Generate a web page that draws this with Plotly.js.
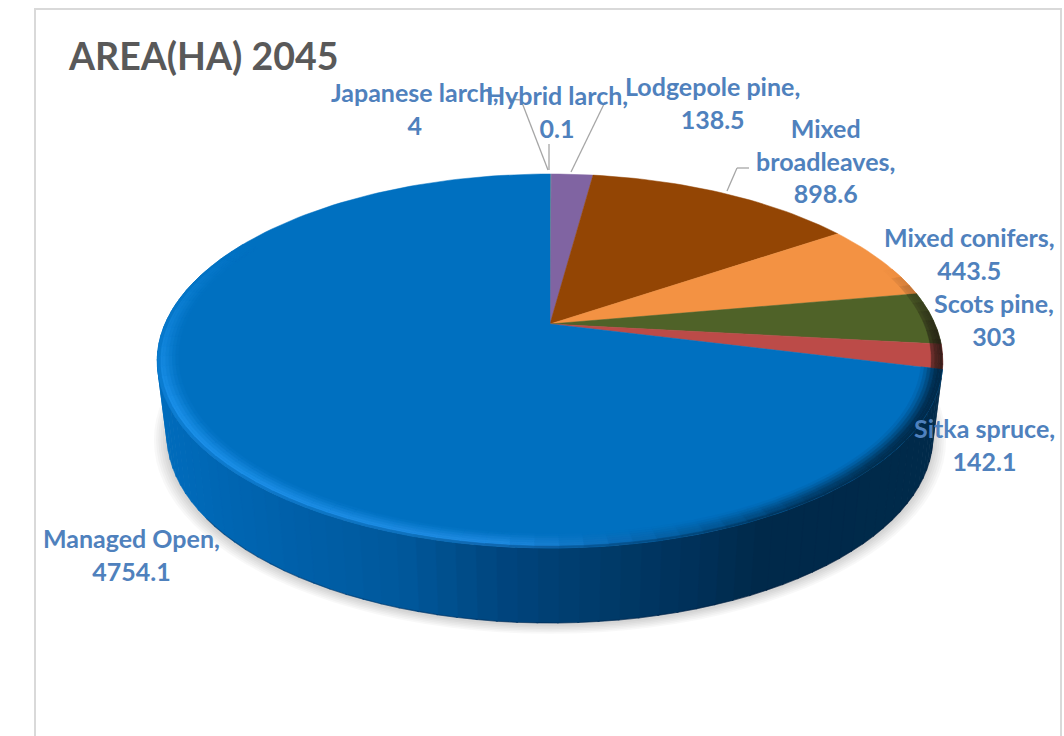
<!DOCTYPE html>
<html>
<head>
<meta charset="utf-8">
<script src="https://cdn.plot.ly/plotly-3.0.1.min.js"></script>
<style>html,body{margin:0;padding:0;background:#fff;overflow:hidden}#chart{width:1064px;height:736px}</style>
</head>
<body>
<div id="chart"></div>
<script>
// ---- data ----
const categories = ["Japanese larch","Hybrid larch","Lodgepole pine","Mixed broadleaves","Mixed conifers","Scots pine","Sitka spruce","Managed Open"];
const areaHa = [4, 0.1, 138.5, 898.6, 443.5, 303, 142.1, 4754.1];
const sliceColors = ["#4f81bd","#9bbb59","#8064a2","#934504","#f39243","#4f6228","#bc4b48","#0070c0"];
const labelLines = ["Japanese larch,<br>4","Hybrid larch,<br>0.1","Lodgepole pine,<br>138.5","Mixed<br>broadleaves,<br>898.6","Mixed conifers,<br>443.5","Scots pine,<br>303","Sitka spruce,<br>142.1","Managed Open,<br>4754.1"];
const chartTitle = "AREA(HA) 2045";

// ---- layout constants ----
const W = 1064, H = 736;
const apex = {x: 550, y: 324};
const persp = 0.1979, halfDepth = 179.7, halfWidth = 385;
const wallH = 75, baseScale = 0.975;
const labelPos = [[415,108],[557,111],[712,102],[825,160],[969,253],[994,319],[984,444],[131,554]];
const leaders = [
  [[548,170],[521,100],[510,99]],
  [[549,170],[549,144]],
  [[571,172],[605,102]],
  [[727,191],[737,168],[749,168]]
];
const labelFont = {family:"Lato, 'Open Sans', sans-serif", size:25, color:"#4f81bd", weight:700};

// ---- helpers ----
const rad = d => d*Math.PI/180;
function P(deg, r){ // perspective projection of a point on the unit disc, clockwise from the top
  const u = r*Math.sin(rad(deg)), v = r*Math.cos(rad(deg)), d = 1 + persp*v;
  return [apex.x + halfWidth*u/d, apex.y - halfDepth*v/d];
}
function B(deg, r){ // matching point on the lower rim
  const p = P(deg, r);
  return [apex.x + (p[0]-apex.x)*baseScale, p[1] + wallH];
}
const hex = c => [1,3,5].map(i => parseInt(c.substr(i,2),16));
function mix(a,b,t){ const A=hex(a),B2=hex(b); return "#"+A.map((v,i)=>Math.round(v+(B2[i]-v)*t).toString(16).padStart(2,"0")).join(""); }
function ramp(stops, x){
  if (x <= stops[0][0]) return stops[0][1];
  for (let i=1;i<stops.length;i++) if (x <= stops[i][0]) return mix(stops[i-1][1],stops[i][1],(x-stops[i-1][0])/(stops[i][0]-stops[i-1][0]));
  return stops[stops.length-1][1];
}
const wallStops = [[157,"#006cbc"],[300,"#005fa8"],[400,"#00589b"],[500,"#00457e"],[600,"#003b6a"],[700,"#003058"],[760,"#00294a"],[950,"#002a4a"]];
const edgeStops = [[157,"#1a8fe8"],[500,"#1f8ae0"],[600,"#0d70bd"],[700,"#035a9b"],[800,"#01406f"],[900,"#002f52"],[950,"#002a4a"]];

function poly(pts, color, name){
  return {type:"scatter", mode:"lines", x:pts.map(p=>p[0]), y:pts.map(p=>p[1]), fill:"toself",
          fillcolor:color, line:{color:color,width:0.5}, hoverinfo:"skip", showlegend:false, name:name||""};
}

// ---- slice angles from the values ----
const total = areaHa.reduce((a,b)=>a+b,0);
let run = 0;
const spans = areaHa.map(v => { const s = run/total*360; run += v; return [s, run/total*360]; });
const managed = spans[spans.length-1];
const traces = [];

// soft shadow under the disc
for (let k=6;k>=1;k--){
  const pts=[]; const grow = 1 + k*0.0055;
  for (let a=0;a<=360;a+=3){ const p=B(a,grow); pts.push([p[0],p[1]+1.5]); }
  traces.push({type:"scatter",mode:"lines",x:pts.map(p=>p[0]),y:pts.map(p=>p[1]),fill:"toself",
    fillcolor:"rgba(0,0,0,0.028)",line:{width:0},hoverinfo:"skip",showlegend:false});
}

// side wall of the biggest slice
const step = 2.5;
for (let a=managed[0]; a<Math.min(managed[1],285); a+=step){
  const b=a+step+0.2, t1=P(a,1), t2=P(b,1), b1=B(a,1), b2=B(b,1);
  traces.push(poly([t1,t2,b2,b1,t1], ramp(wallStops,(t1[0]+t2[0])/2)));
}
// thin dark lower edge of the wall
{
  const pts=[]; for (let a=managed[0]; a<=235; a+=step) pts.push(B(a,1));
  traces.push({type:"scatter",mode:"lines",x:pts.map(p=>p[0]),y:pts.map(p=>p[1]),
    line:{color:"rgba(0,20,50,0.3)",width:1.2},hoverinfo:"skip",showlegend:false});
}

// top-face slices
categories.forEach((name,i)=>{
  const pts=[[apex.x,apex.y]];
  const n=Math.max(1,Math.ceil((spans[i][1]-spans[i][0])/1.5));
  for(let k=0;k<=n;k++) pts.push(P(spans[i][0]+(spans[i][1]-spans[i][0])*k/n,1));
  pts.push([apex.x,apex.y]);
  traces.push(poly(pts,sliceColors[i],name));
});

// bevel around the rim
const ringEdges=[0.948,0.956,0.964,0.972,0.98,0.987,0.993,1.0];
const ringMix=[0.1,0.28,0.5,0.72,0.92,1.0,0.7];
const rimStep=3;
categories.forEach((name,i)=>{
  const isMain=i===categories.length-1;
  for(let a=spans[i][0]; a<spans[i][1]; a+=rimStep){
    const b=Math.min(a+rimStep+0.1,spans[i][1]);
    const m=(a+b)/2;
    let s;
    if(isMain){ s = m<245?1: m<300?(300-m)/55:0; }
    else { s = m<72?0: m<95?(m-72)/23:1; }
    if(s<=0) continue;
    const x=P(m,1)[0];
    const edge = isMain ? ramp(edgeStops,x) : mix(sliceColors[i],"#1c1410",0.75);
    const wall = isMain ? mix(ramp(wallStops,x),edge,0.5) : mix(sliceColors[i],"#1c1410",0.8);
    ringMix.forEach((t,k)=>{
      if(!isMain && k<3) return;
      const target = k===ringMix.length-1 ? wall : edge;
      const tt = k===ringMix.length-1 ? 1 : t;
      const col = mix(sliceColors[i],target,tt*s);
      const r0=ringEdges[k], r1=ringEdges[k+1];
      traces.push(poly([P(a,r0),P(b,r0),P(b,r1),P(a,r1),P(a,r0)],col));
    });
  }
});

const annotations = labelLines.map((t,i)=>({
  text:t, x:labelPos[i][0], y:labelPos[i][1], xref:"x", yref:"y", showarrow:false,
  xanchor:"center", yanchor:"middle", align:"center", font:labelFont
}));
const shapes = [{type:"rect",xref:"x",yref:"y",x0:35,x1:1061,y0:9,y1:760,line:{color:"#d9d9d9",width:2},fillcolor:"rgba(0,0,0,0)",layer:"below"}];
leaders.forEach(L=>{
  for(let i=0;i<L.length-1;i++) shapes.push({type:"line",xref:"x",yref:"y",x0:L[i][0],y0:L[i][1],x1:L[i+1][0],y1:L[i+1][1],line:{color:"#a6a6a6",width:1.3},layer:"above"});
});

Plotly.newPlot("chart",traces,{
  width:W,height:H,margin:{l:0,r:0,t:0,b:0},paper_bgcolor:"#fff",plot_bgcolor:"#fff",showlegend:false,hovermode:false,
  title:{text:chartTitle,x:69/W,xanchor:"left",xref:"paper",y:1-57/H,yref:"paper",yanchor:"middle",
    font:{family:"Lato, 'Open Sans', sans-serif",size:37.5,color:"#595959",weight:700}},
  xaxis:{range:[0,W],visible:false,fixedrange:true},
  yaxis:{range:[H,0],visible:false,fixedrange:true},
  annotations:annotations,shapes:shapes
},{displayModeBar:false,staticPlot:true});
</script>
</body>
</html>
